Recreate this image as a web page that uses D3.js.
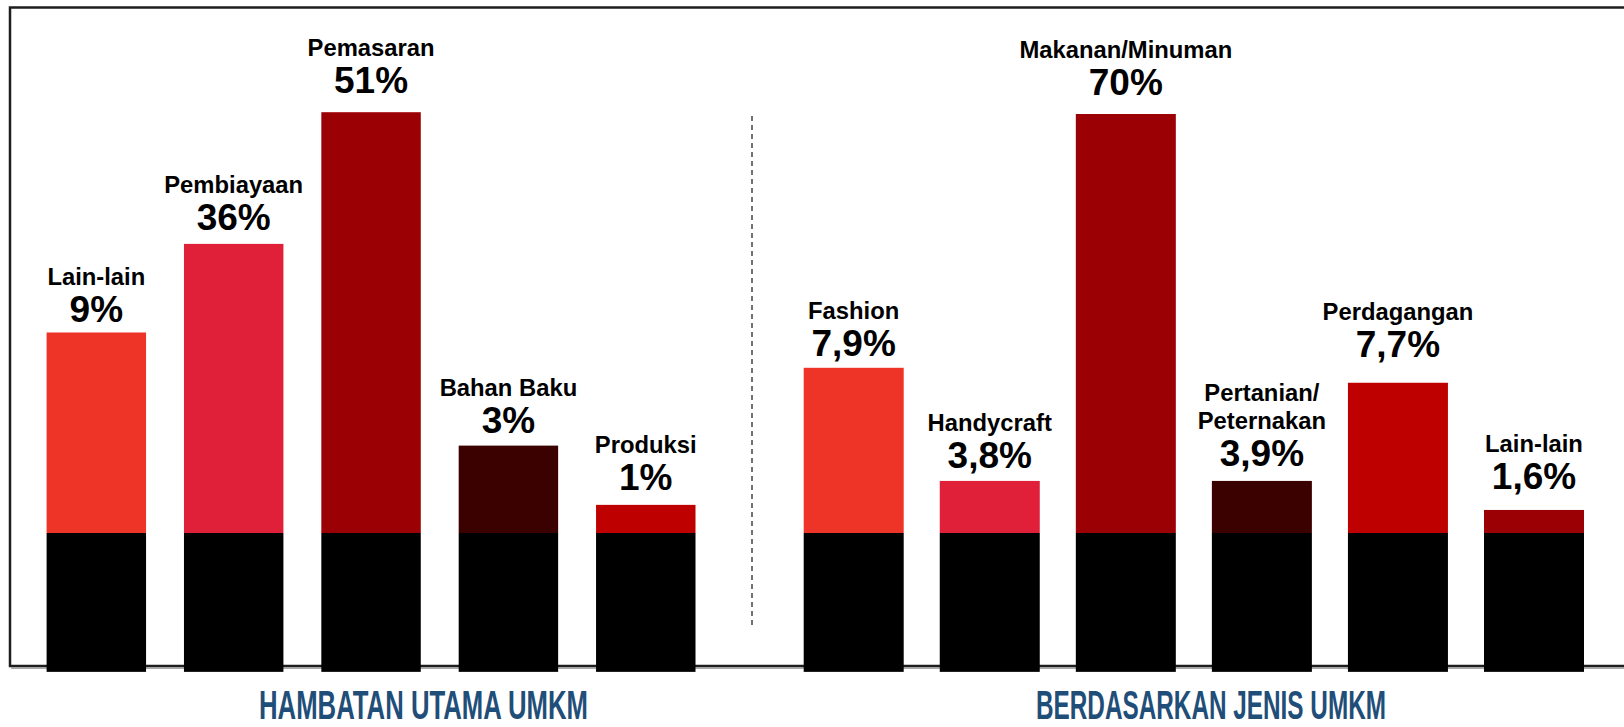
<!DOCTYPE html>
<html>
<head>
<meta charset="utf-8">
<script src="https://cdn.jsdelivr.net/npm/d3@7/dist/d3.min.js"></script>
<style>
  html, body { margin: 0; padding: 0; background: #fff; }
  svg { display: block; }
</style>
</head>
<body>
<svg id="chart" width="1624" height="727"></svg>
<script>
// ---------- DATA ----------
const hambatanCategories = ["Lain-lain", "Pembiayaan", "Pemasaran", "Bahan Baku", "Produksi"];
const hambatanValues     = [9, 36, 51, 3, 1];
const hambatanLabels     = ["9%", "36%", "51%", "3%", "1%"];

const jenisCategories = ["Fashion", "Handycraft", "Makanan/Minuman", "Pertanian/\nPeternakan", "Perdagangan", "Lain-lain"];
const jenisValues     = [7.9, 3.8, 70, 3.9, 7.7, 1.6];
const jenisLabels     = ["7,9%", "3,8%", "70%", "3,9%", "7,7%", "1,6%"];

const panelTitles = ["HAMBATAN UTAMA UMKM", "BERDASARKAN JENIS UMKM"];

// ---------- STYLE ----------
const hambatanColors = ["#ee3426", "#e01f38", "#9b0005", "#3b0000", "#bf0000"];
const jenisColors    = ["#ee3426", "#e01f38", "#9b0005", "#3b0000", "#bf0000", "#9b0005"];
// hand-placed label nudges of the infographic (px)
const hambatanNudge = [5, 1, -4, 2, 0];
const jenisNudge    = [3, 2, -4, 0, -11, -6];

const svg = d3.select("#chart");

// frame
svg.append("line").attr("x1", 11).attr("x2", 1700).attr("y1", 668.2).attr("y2", 668.2)
  .attr("stroke", "#a8a8a8").attr("stroke-width", 1.5);
svg.append("rect")
  .attr("x", 10).attr("y", 7.5).attr("width", 1700).attr("height", 658.5)
  .attr("fill", "none").attr("stroke", "#1e1e1e").attr("stroke-width", 2.5);

// divider
svg.append("line").attr("x1", 752).attr("x2", 752).attr("y1", 116).attr("y2", 626)
  .attr("stroke", "#444").attr("stroke-width", 1.5).attr("stroke-dasharray", "5,4");

// vertical scale (level units) : coloured part above the black base
const y = d3.scaleLinear().domain([0, 70]).range([533, 114]);
const baseLevel = -23.2;   // black foot of every bar

// The infographic draws the bars on its own, non-proportional scale:
const hambatanLevel = d3.scaleLinear().domain([0, 1, 3, 9, 36, 51]).range([0, 4.7, 14.6, 33.5, 48.3, 70.3]);
const jenisLevel    = d3.scaleLinear().domain([0, 1.6, 3.8, 3.9, 7.7, 7.9, 70]).range([0, 3.85, 8.7, 8.7, 25.1, 27.6, 70]);

function drawPanel(cats, vals, labels, colors, nudge, xRange, pad, level, title, titleCx, titleLen) {
  const x = d3.scaleBand().domain(cats).range(xRange).paddingInner(pad).paddingOuter(0);
  const g = svg.append("g");
  const data = cats.map((c, i) => ({ c, v: vals[i], l: labels[i], col: colors[i], n: nudge[i] }));

  // black base
  g.selectAll("rect.base").data(data).enter().append("rect")
    .attr("class", "base")
    .attr("x", d => x(d.c)).attr("width", x.bandwidth())
    .attr("y", y(0)).attr("height", y(baseLevel) - y(0))
    .attr("fill", "#000");

  // coloured part
  g.selectAll("rect.val").data(data).enter().append("rect")
    .attr("class", "val")
    .attr("x", d => x(d.c)).attr("width", x.bandwidth())
    .attr("y", d => y(level(d.v))).attr("height", d => y(0) - y(level(d.v)))
    .attr("fill", d => d.col);

  // value labels
  g.selectAll("text.val").data(data).enter().append("text")
    .attr("class", "val")
    .attr("x", d => x(d.c) + x.bandwidth() / 2)
    .attr("y", d => y(level(d.v)) - 15 + d.n)
    .attr("text-anchor", "middle")
    .attr("font-family", "Liberation Sans, Arial, sans-serif")
    .attr("font-weight", "bold").attr("font-size", 37)
    .attr("fill", "#000")
    .text(d => d.l);

  // category labels
  const cl = g.selectAll("text.cat").data(data).enter().append("text")
    .attr("class", "cat")
    .attr("text-anchor", "middle")
    .attr("font-family", "Liberation Sans, Arial, sans-serif")
    .attr("font-weight", "bold").attr("font-size", 23.8)
    .attr("fill", "#000");
  cl.each(function(d) {
    const lines = d.c.split("\n");
    const cx = x(d.c) + x.bandwidth() / 2;
    const baseY = y(level(d.v)) - 15 - 37 + d.n;
    lines.forEach((ln, k) => {
      d3.select(this).append("tspan")
        .attr("x", cx)
        .attr("y", baseY - (lines.length - 1 - k) * 28)
        .text(ln);
    });
  });

  // panel title
  svg.append("text")
    .attr("x", titleCx - titleLen / 2)
    .attr("y", 719)
    .attr("textLength", titleLen).attr("lengthAdjust", "spacingAndGlyphs")
    .attr("font-family", "Liberation Sans Narrow, Liberation Sans, Arial, sans-serif")
    .attr("font-weight", "bold").attr("font-size", 40.5)
    .attr("fill", "#1f4e79")
    .text(title);
}

drawPanel(hambatanCategories, hambatanValues, hambatanLabels, hambatanColors, hambatanNudge,
          [46.6, 695.5], 0.276, hambatanLevel, panelTitles[0], 423.5, 329);
drawPanel(jenisCategories, jenisValues, jenisLabels, jenisColors, jenisNudge,
          [803.7, 1584], 0.265, jenisLevel, panelTitles[1], 1211, 350);
</script>
</body>
</html>
